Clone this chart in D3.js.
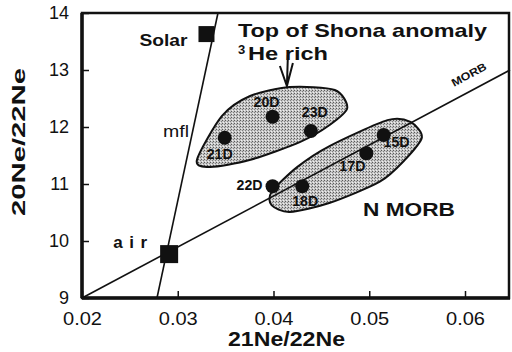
<!DOCTYPE html>
<html>
<head>
<meta charset="utf-8">
<script src="https://cdn.jsdelivr.net/npm/d3@7"></script>
<style>
  html, body { margin: 0; padding: 0; background: #fff; }
  svg { display: block; font-family: "Liberation Sans", Arial, Helvetica, sans-serif; }
</style>
</head>
<body>
<div id="chart"></div>
<script>
// Ne isotope diagram: 20Ne/22Ne vs 21Ne/22Ne
const samples = ["21D", "20D", "23D", "15D", "17D", "22D", "18D"];
const ne21 = [0.0349, 0.0399, 0.0439, 0.0515, 0.0497, 0.0399, 0.0430];
const ne20 = [11.81, 12.18, 11.93, 11.86, 11.54, 10.96, 10.96];

const endNames = ["Solar", "air"];
const end21 = [0.0330, 0.0291];
const end20 = [13.63, 9.77];

// reference lines (endpoints in data units)
const morbLine = [[0.02, 9.0], [0.0647, 13.0]];
const mflLine = [[0.02783, 9.0], [0.0342, 14.0]];

// outlines of the shaded groups
const upperGroup = [[0.0320, 11.42], [0.0346, 12.19], [0.0375, 12.54], [0.0417, 12.70], [0.0464, 12.65],
  [0.0477, 12.33], [0.0459, 12.04], [0.0428, 11.74], [0.0375, 11.42], [0.0334, 11.30]];
const lowerGroup = [[0.0398, 10.86], [0.0425, 11.30], [0.0459, 11.67], [0.0519, 12.12], [0.0543, 12.09],
  [0.0555, 11.82], [0.0537, 11.42], [0.0511, 11.04], [0.0459, 10.67], [0.0417, 10.51], [0.0398, 10.63]];

const xTicks = [0.02, 0.03, 0.04, 0.05, 0.06];
const yTicks = [9, 10, 11, 12, 13, 14];

const width = 512, height = 352;
const margin = { top: 13, right: 2, bottom: 54, left: 82 };
const ink = "#111";

const x = d3.scaleLinear().domain([0.02, 0.0647]).range([margin.left, width - margin.right]);
const y = d3.scaleLinear().domain([9, 14]).range([height - margin.bottom, margin.top]);

const svg = d3.select("#chart").append("svg")
  .attr("width", width)
  .attr("height", height);

// stipple fill
const pat = svg.append("defs").append("pattern")
  .attr("id", "stip")
  .attr("width", 3).attr("height", 3)
  .attr("patternUnits", "userSpaceOnUse");
pat.append("rect").attr("width", 3).attr("height", 3).attr("fill", "#c6c6c6");
pat.append("rect").attr("x", 0).attr("y", 0).attr("width", 1).attr("height", 1).attr("fill", "#5a5a5a");
pat.append("rect").attr("x", 2).attr("y", 1).attr("width", 1).attr("height", 1).attr("fill", "#808080");
pat.append("rect").attr("x", 1).attr("y", 2).attr("width", 1).attr("height", 1).attr("fill", "#f0f0f0");

const blob = d3.line()
  .x((d) => x(d[0]))
  .y((d) => y(d[1]))
  .curve(d3.curveCardinalClosed.tension(0.2));

[upperGroup, lowerGroup].forEach((g) => {
  svg.append("path")
    .attr("d", blob(g))
    .attr("fill", "url(#stip)")
    .attr("stroke", ink)
    .attr("stroke-width", 2);
});

// lines
const seg = d3.line().x((d) => x(d[0])).y((d) => y(d[1]));
[morbLine, mflLine].forEach((l) => {
  svg.append("path")
    .attr("d", seg(l))
    .attr("fill", "none")
    .attr("stroke", ink)
    .attr("stroke-width", 1.6);
});

// axes
const xAxis = d3.axisBottom(x).tickValues(xTicks).tickSize(-7).tickPadding(14)
  .tickFormat(d3.format(".2f"));
const yAxis = d3.axisLeft(y).tickValues(yTicks).tickSize(-7).tickPadding(13)
  .tickFormat(d3.format("d"));

const gx = svg.append("g").attr("transform", `translate(0,${height - margin.bottom})`).call(xAxis);
const gy = svg.append("g").attr("transform", `translate(${margin.left},0)`).call(yAxis);
[gx, gy].forEach((g) => {
  g.select(".domain").remove();
  g.selectAll("line").attr("stroke", ink).attr("stroke-width", 1.5);
  g.selectAll("text").attr("fill", ink).style("font-size", "18px");
});
gx.selectAll("text").attr("textLength", 39).attr("lengthAdjust", "spacingAndGlyphs");

// frame
svg.append("rect")
  .attr("x", margin.left).attr("y", margin.top)
  .attr("width", width - margin.left - margin.right - 1)
  .attr("height", height - margin.top - margin.bottom)
  .attr("fill", "none").attr("stroke", ink).attr("stroke-width", 2.5);
svg.append("line")
  .attr("x1", margin.left).attr("x2", width - margin.right)
  .attr("y1", height - margin.bottom).attr("y2", height - margin.bottom)
  .attr("stroke", ink).attr("stroke-width", 3.5);
svg.append("line")
  .attr("x1", margin.left).attr("x2", margin.left)
  .attr("y1", margin.top).attr("y2", height - margin.bottom)
  .attr("stroke", ink).attr("stroke-width", 3.5);

// sample points
svg.selectAll("circle.s")
  .data(samples)
  .enter()
  .append("circle")
  .attr("class", "s")
  .attr("cx", (d, i) => x(ne21[i]))
  .attr("cy", (d, i) => y(ne20[i]))
  .attr("r", 7)
  .attr("fill", ink);

const labelOffset = {
  "21D": [-18, 21], "20D": [-19, -10], "23D": [-9, -14], "15D": [0, 12],
  "17D": [-27, 18], "22D": [-36, 4], "18D": [-10, 20]
};
svg.selectAll("text.s")
  .data(samples)
  .enter()
  .append("text")
  .attr("class", "s")
  .attr("x", (d, i) => x(ne21[i]) + labelOffset[d][0])
  .attr("y", (d, i) => y(ne20[i]) + labelOffset[d][1])
  .attr("textLength", 26)
  .attr("lengthAdjust", "spacingAndGlyphs")
  .style("font-size", "14px")
  .style("font-weight", "bold")
  .attr("fill", ink)
  .text((d) => d);

// end-member squares
const sq = [16, 18];
svg.selectAll("rect.e")
  .data(endNames)
  .enter()
  .append("rect")
  .attr("class", "e")
  .attr("x", (d, i) => x(end21[i]) - sq[i] / 2)
  .attr("y", (d, i) => y(end20[i]) - sq[i] / 2)
  .attr("width", (d, i) => sq[i])
  .attr("height", (d, i) => sq[i])
  .attr("fill", ink);

svg.append("text")
  .attr("x", x(end21[0]) - 67).attr("y", y(end20[0]) + 12)
  .attr("textLength", 48).attr("lengthAdjust", "spacingAndGlyphs")
  .style("font-size", "17px").style("font-weight", "bold").attr("fill", ink)
  .text("Solar");
svg.append("text")
  .attr("x", x(end21[1]) - 56).attr("y", y(end20[1]) - 6)
  .attr("textLength", 34).attr("lengthAdjust", "spacing")
  .style("font-size", "17px").style("font-weight", "bold").attr("fill", ink)
  .text("air");

// line labels
svg.append("text")
  .attr("x", 163).attr("y", 137)
  .attr("textLength", 26).attr("lengthAdjust", "spacingAndGlyphs")
  .style("font-size", "16px").attr("fill", ink)
  .text("mfl");
const angle = Math.atan2(y(morbLine[1][1]) - y(morbLine[0][1]), x(morbLine[1][0]) - x(morbLine[0][0])) * 180 / Math.PI;
svg.append("text")
  .attr("transform", `translate(${x(0.0606)},${y(12.86)}) rotate(${angle})`)
  .attr("text-anchor", "middle")
  .attr("textLength", 38).attr("lengthAdjust", "spacingAndGlyphs")
  .style("font-size", "11px").style("font-weight", "bold").attr("fill", ink)
  .text("MORB");

svg.append("text")
  .attr("x", 363).attr("y", 216)
  .attr("textLength", 92).attr("lengthAdjust", "spacingAndGlyphs")
  .style("font-size", "19px").style("font-weight", "bold").attr("fill", ink)
  .text("N MORB");

// annotation
svg.append("text")
  .attr("x", 238).attr("y", 37)
  .attr("textLength", 249).attr("lengthAdjust", "spacingAndGlyphs")
  .style("font-size", "19px").style("font-weight", "bold").attr("fill", ink)
  .text("Top of Shona anomaly");
svg.append("text")
  .attr("x", 238).attr("y", 54)
  .style("font-size", "13px").style("font-weight", "bold").attr("fill", ink)
  .text("3");
svg.append("text")
  .attr("x", 248).attr("y", 60)
  .attr("textLength", 80).attr("lengthAdjust", "spacingAndGlyphs")
  .style("font-size", "19px").style("font-weight", "bold").attr("fill", ink)
  .text("He rich");

const ax = x(0.0414);
const tipY = y(12.72);
svg.append("path")
  .attr("d", `M${ax + 1},${tipY - 31} L${ax},${tipY} M${ax - 7},${tipY - 20} L${ax},${tipY} L${ax + 6},${tipY - 23}`)
  .attr("fill", "none").attr("stroke", ink).attr("stroke-width", 2);

// axis titles
svg.append("text")
  .attr("x", 228).attr("y", 346)
  .attr("textLength", 117).attr("lengthAdjust", "spacingAndGlyphs")
  .style("font-size", "20px").style("font-weight", "bold").attr("fill", ink)
  .text("21Ne/22Ne");
svg.append("text")
  .attr("transform", "translate(25,142) rotate(-90)")
  .attr("text-anchor", "middle")
  .attr("textLength", 148).attr("lengthAdjust", "spacingAndGlyphs")
  .style("font-size", "19px").style("font-weight", "bold").attr("fill", ink)
  .text("20Ne/22Ne");
</script>
</body>
</html>
